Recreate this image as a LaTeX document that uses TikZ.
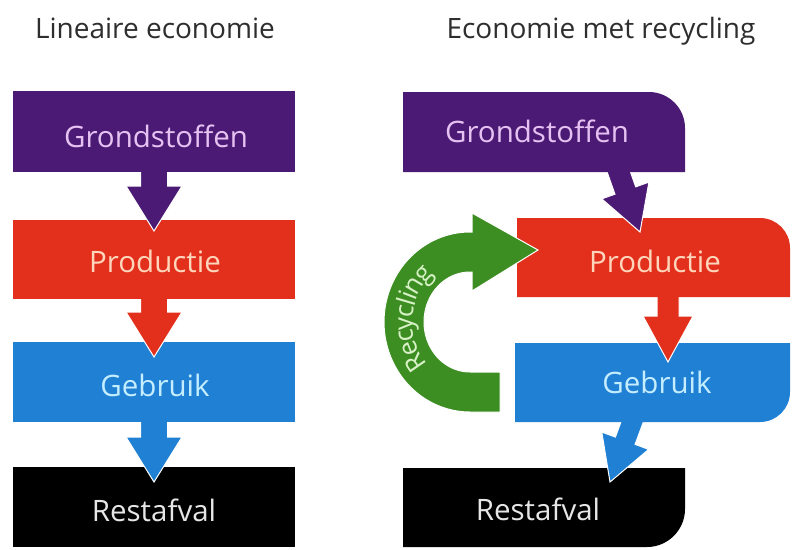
\documentclass[tikz,border=0pt]{standalone}
\usepackage{fontspec}
\setmainfont{Open Sans}
\usetikzlibrary{calc,decorations.text}
\definecolor{cpurp}{HTML}{4B1A74}
\definecolor{cred}{HTML}{E3301C}
\definecolor{cblue}{HTML}{1F80D4}
\definecolor{cgreen}{HTML}{3D8E22}
\definecolor{cblack}{HTML}{000000}
\definecolor{tpurp}{HTML}{E6C2F2}
\definecolor{tred}{HTML}{FFD6BC}
\definecolor{tblue}{HTML}{C4EEFF}
\definecolor{tblack}{HTML}{E6E6E6}
\definecolor{tgreen}{HTML}{D8F2C8}
\definecolor{ttitle}{HTML}{2E2E2E}
% square box
\newcommand\sqbox[2]{\fill[#2] (#1.south west) rectangle (#1.north east);}
% box with rounded top-right corner
\newcommand\trbox[3]{\fill[#2] (#1.south west) -- (#1.north west) -- ([xshift=-#3]#1.north east)
  .. controls ([xshift=-0.45*#3]#1.north east) and ([yshift=-0.45*#3]#1.north east) .. ([yshift=-#3]#1.north east)
  -- (#1.south east) -- cycle;}
% box with rounded bottom-right corner
\newcommand\brbox[3]{\fill[#2] (#1.south west) -- (#1.north west) -- (#1.north east) -- ([yshift=#3]#1.south east)
  .. controls ([yshift=0.45*#3]#1.south east) and ([xshift=-0.45*#3]#1.south east) .. ([xshift=-#3]#1.south east)
  -- cycle;}
% block arrow: id, colour, start, tip, shaft half width, head half width, head length
\newcommand\flowarrow[7]{%
  \coordinate (#1-b) at ($(#4)!#7!(#3)$);
  \filldraw[fill=#2, draw=white, line width=1pt, line join=miter]
    ($(#3)!#5!90:(#4)$) -- ($(#1-b)!#5!90:(#4)$) -- ($(#1-b)!#6!90:(#4)$) -- (#4)
    -- ($(#1-b)!#6!-90:(#4)$) -- ($(#1-b)!#5!-90:(#4)$) -- ($(#3)!#5!-90:(#4)$) -- cycle;}
\begin{document}
\begin{tikzpicture}[x=1pt,y=-1pt,
  boxnode/.style={rectangle,inner sep=0pt,outer sep=0pt,draw=none,anchor=north west},
  lbl/.style={inner sep=0pt,text height=21pt,text depth=0pt,font=\fontsize{29.5pt}{29.5pt}\selectfont},
  ttl/.style={inner sep=0pt,text height=20pt,text depth=0pt,text=ttitle,font=\fontsize{28pt}{28pt}\selectfont}]
\useasboundingbox (0,0) rectangle (792,549);
\fill[white] (0,0) rectangle (792,549);

% ---------- nodes (box areas) ----------
\node[boxnode,minimum width=282pt,minimum height=81pt] (g1) at (13,91) {};
\node[boxnode,minimum width=282pt,minimum height=79pt] (p1) at (13,220) {};
\node[boxnode,minimum width=282pt,minimum height=80pt] (u1) at (13,342) {};
\node[boxnode,minimum width=282pt,minimum height=80pt] (r1) at (13,467) {};
\node[boxnode,minimum width=282pt,minimum height=80pt] (g2) at (403,92) {};
\node[boxnode,minimum width=273pt,minimum height=79pt] (p2) at (517,218) {};
\node[boxnode,minimum width=275pt,minimum height=79pt] (u2) at (515,343) {};
\node[boxnode,minimum width=282pt,minimum height=79pt] (r2) at (403,468) {};

% ---------- connector end points ----------
\coordinate (a1s) at ([yshift=10pt]g1.south);
\coordinate (a1t) at ([yshift=-11pt]p1.north);
\coordinate (a2s) at ([yshift=10pt]p1.south);
\coordinate (a2t) at ([yshift=-15pt]u1.north);
\coordinate (a3s) at ([yshift=10pt]u1.south);
\coordinate (a3t) at ([yshift=-15pt]r1.north);
\coordinate (b1s) at ([xshift=208pt,yshift=22pt]g2.south west);
\coordinate (b1t) at ([xshift=123pt,yshift=-14pt]p2.north west);
\coordinate (b2s) at ([xshift=151pt,yshift=12pt]p2.south west);
\coordinate (b2t) at ([xshift=153pt,yshift=-19pt]u2.north west);
\coordinate (b3s) at ([xshift=126pt,yshift=24pt]u2.south west);
\coordinate (b3t) at ([xshift=207pt,yshift=-14pt]r2.north west);

% ---------- left column ----------
\sqbox{r1}{cblack}
\flowarrow{a3}{cblue}{a3s}{a3t}{13.5pt}{28pt}{45pt}
\sqbox{u1}{cblue}
\flowarrow{a2}{cred}{a2s}{a2t}{13.5pt}{28pt}{45pt}
\sqbox{p1}{cred}
\flowarrow{a1}{cpurp}{a1s}{a1t}{13.5pt}{28pt}{45pt}
\sqbox{g1}{cpurp}

% ---------- right column ----------
\brbox{r2}{cblack}{38pt}
\flowarrow{b3}{cblue}{b3s}{b3t}{10.5pt}{25pt}{44pt}
\brbox{u2}{cblue}{30pt}
\flowarrow{b2}{cred}{b2s}{b2t}{11pt}{25pt}{46pt}
\trbox{p2}{cred}{30pt}
% recycling arrow (Gebruik -> Productie)
\coordinate (rtip) at ([xshift=21pt,yshift=7.5pt]p2.west);
\filldraw[fill=cgreen, draw=white, line width=1pt, line join=miter]
  (500,412) -- (470,412)
  -- plot[domain=90:270,samples=80] ({470+86*cos(\x)},{322+90*sin(\x)})
  -- (472,232) -- (472,213) -- (rtip) -- (472,291) -- (472,272) -- (470,272)
  -- plot[domain=270:90,samples=80] ({470+46*cos(\x)},{322+50*sin(\x)})
  -- (500,372) -- cycle;
\path[decorate,decoration={text along path,text align=center,raise=-8.5pt,
  text={|\fontsize{26pt}{26pt}\selectfont\color{tgreen}|Recycling}}]
  plot[domain=118:250,samples=80] ({470+66*cos(\x)},{322+70*sin(\x)});
\flowarrow{b1}{cpurp}{b1s}{b1t}{11pt}{25pt}{44pt}
\trbox{g2}{cpurp}{36pt}

% ---------- labels ----------
\node[lbl,text=tpurp] (g1l) at (156,137) {Grondstoffen};
\node[lbl,text=tred] (p1l) at (155,262) {Productie};
\node[lbl,text=tblue] (u1l) at (155,386) {Gebruik};
\node[lbl,text=tblack] (r1l) at (154,511) {Restafval};
\node[lbl,text=tpurp] (g2l) at (537,132) {Grondstoffen};
\node[lbl,text=tred] (p2l) at (655,262) {Productie};
\node[lbl,text=tblue] (u2l) at (657,383) {Gebruik};
\node[lbl,text=tblack] (r2l) at (538,510) {Restafval};

% ---------- titles ----------
\node[ttl] (t1) at (155,28) {Lineaire economie};
\node[ttl] (t2) at (601,28) {Economie met recycling};
\end{tikzpicture}
\end{document}
